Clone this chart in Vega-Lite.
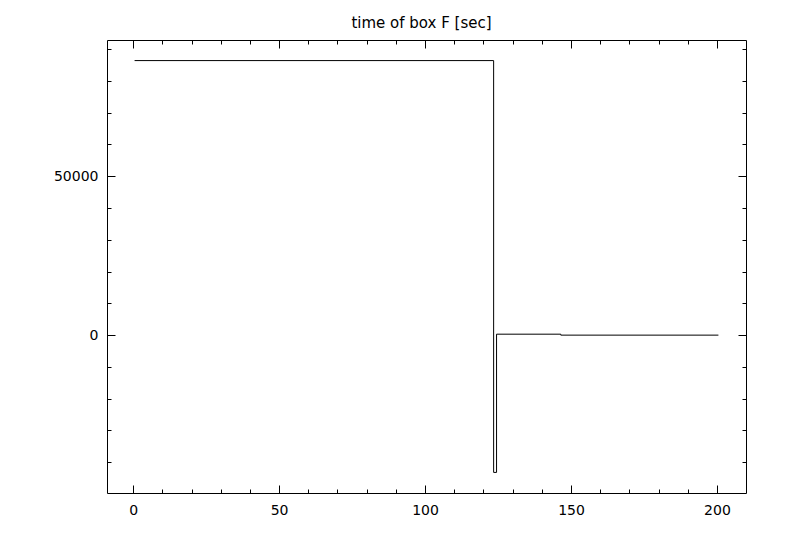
{
  "$schema": "https://vega.github.io/schema/vega-lite/v6.json",
  "autosize": "none",
  "width": 639,
  "height": 453,
  "padding": {"left": 107, "top": 40, "right": 54, "bottom": 67},
  "background": "white",
  "title": {
    "text": "time of box F [sec]",
    "font": "DejaVu Sans",
    "fontSize": 15,
    "fontWeight": "normal",
    "color": "black",
    "anchor": "middle",
    "baseline": "alphabetic",
    "offset": 11,
    "dx": -5,
    "dy": 14
  },
  "data": {
    "values": [
      {"bin": 0.5, "t": 86400},
      {"bin": 123.5, "t": -43200},
      {"bin": 124.5, "t": 300},
      {"bin": 146.5, "t": 0},
      {"bin": 200.5, "t": 0}
    ]
  },
  "layer": [
    {
      "mark": {"type": "line", "interpolate": "step-after", "color": "black", "strokeWidth": 1},
      "encoding": {
        "x": {
          "field": "bin", "type": "quantitative",
          "scale": {"domain": [-8.95, 209.95], "nice": false, "zero": false},
          "axis": {
            "orient": "bottom",
            "values": [0,10,20,30,40,50,60,70,80,90,100,110,120,130,140,150,160,170,180,190,200],
            "labelExpr": "datum.value % 50 === 0 ? format(datum.value, 'd') : ''",
            "tickSize": {"condition": {"test": "datum.value % 50 === 0", "value": -8}, "value": -4},
            "labelPadding": 18,
            "labelOverlap": false,
            "labelFlush": false,
            "title": null
          }
        },
        "y": {
          "field": "t", "type": "quantitative",
          "scale": {"domain": [-49680, 92880], "nice": false, "zero": false},
          "axis": {
            "orient": "left",
            "values": [-40000,-30000,-20000,-10000,0,10000,20000,30000,40000,50000,60000,70000,80000,90000],
            "labelExpr": "datum.value % 50000 === 0 ? format(datum.value, 'd') : ''",
            "tickSize": {"condition": {"test": "datum.value % 50000 === 0", "value": -8}, "value": -4},
            "labelPadding": 17,
            "labelOverlap": false,
            "labelFlush": false,
            "title": null
          }
        }
      }
    },
    {
      "mark": {"type": "line", "interpolate": "step-after", "color": "black", "strokeWidth": 1, "strokeOpacity": 0},
      "encoding": {
        "x": {
          "field": "bin", "type": "quantitative",
          "axis": {
            "orient": "top",
            "values": [0,10,20,30,40,50,60,70,80,90,100,110,120,130,140,150,160,170,180,190,200],
            "labels": false,
            "tickSize": {"condition": {"test": "datum.value % 50 === 0", "value": -8}, "value": -4},
            "title": null
          }
        },
        "y": {
          "field": "t", "type": "quantitative",
          "axis": {
            "orient": "right",
            "values": [-40000,-30000,-20000,-10000,0,10000,20000,30000,40000,50000,60000,70000,80000,90000],
            "labels": false,
            "tickSize": {"condition": {"test": "datum.value % 50000 === 0", "value": -8}, "value": -4},
            "title": null
          }
        }
      }
    }
  ],
  "resolve": {"axis": {"x": "independent", "y": "independent"}},
  "config": {
    "view": {"stroke": "black", "strokeWidth": 1},
    "axis": {
      "domain": false,
      "grid": false,
      "tickColor": "black",
      "tickWidth": 1,
      "labelColor": "black",
      "labelFont": "DejaVu Sans",
      "labelFontSize": 14
    }
  }
}
